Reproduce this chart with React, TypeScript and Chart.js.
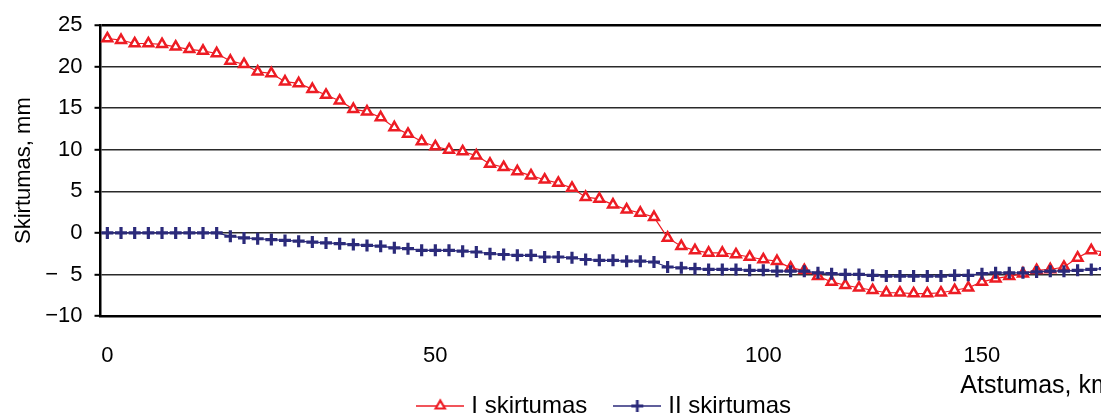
import React, { useEffect, useRef } from "react";
import { Chart, registerables } from "chart.js";

Chart.register(...registerables);

// x-axis: category positions that carry a distance label (km)
const tickIndex = [0, 24, 48, 64];
const tickText = ["0", "50", "100", "150"];

// I skirtumas (mm)
const seriesI = [
  23.4, 23.2, 22.8, 22.8, 22.7, 22.4, 22.1, 21.9, 21.6, 20.7,
  20.3, 19.4, 19.2, 18.2, 18.0, 17.3, 16.6, 15.9, 14.9, 14.6,
  13.9, 12.7, 11.9, 11.0, 10.4, 10.0, 9.8, 9.3, 8.3, 7.9,
  7.4, 6.9, 6.4, 6.0, 5.4, 4.3, 4.1, 3.4, 2.8, 2.4,
  1.9, -0.6, -1.6, -2.1, -2.4, -2.4, -2.6, -2.9, -3.2, -3.4,
  -4.2, -4.5, -5.2, -5.9, -6.3, -6.6, -6.9, -7.2, -7.2, -7.3,
  -7.3, -7.2, -6.9, -6.6, -5.9, -5.5, -5.2, -4.9, -4.5, -4.4,
  -4.1, -3.0, -2.1, -2.3,
];

// II skirtumas (mm)
const seriesII = [
  0.0, 0.0, 0.0, 0.0, 0.0, 0.0, 0.0, 0.0, 0.0, -0.4,
  -0.6, -0.7, -0.8, -0.9, -1.0, -1.1, -1.2, -1.3, -1.4, -1.5,
  -1.6, -1.8, -1.9, -2.1, -2.1, -2.1, -2.2, -2.3, -2.5, -2.6,
  -2.7, -2.7, -2.9, -2.9, -3.0, -3.2, -3.3, -3.3, -3.4, -3.4,
  -3.5, -4.1, -4.2, -4.3, -4.4, -4.4, -4.4, -4.5, -4.5, -4.6,
  -4.6, -4.6, -4.8, -4.9, -5.0, -5.0, -5.1, -5.2, -5.2, -5.2,
  -5.2, -5.2, -5.1, -5.1, -4.9, -4.8, -4.8, -4.8, -4.7, -4.6,
  -4.6, -4.5, -4.4, -4.3,
];

const seriesNames = ["I skirtumas", "II skirtumas"];
const yMin = -10;
const yMax = 25;
const yStep = 5;

const categories = seriesI.map((_, i) => {
  const k = tickIndex.indexOf(i);
  return k >= 0 ? tickText[k] : "";
});

const RED = "#ed1c24";
const NAVY = "#2b2a7a";
const FONT = "'Liberation Sans', Arial, Helvetica, sans-serif";

function makeLegendIcon(color: string, kind: "triangle" | "cross"): HTMLCanvasElement {
  const c = document.createElement("canvas");
  c.width = 48;
  c.height = 22;
  const g = c.getContext("2d")!;
  g.strokeStyle = color;
  g.lineWidth = 1.5;
  g.beginPath();
  g.moveTo(0, 11);
  g.lineTo(48, 11);
  g.stroke();
  if (kind === "triangle") {
    g.fillStyle = "#fff";
    g.lineWidth = 2.2;
    g.beginPath();
    g.moveTo(24, 5.5);
    g.lineTo(28.6, 13.5);
    g.lineTo(19.4, 13.5);
    g.closePath();
    g.fill();
    g.stroke();
  } else {
    g.lineWidth = 2.8;
    g.beginPath();
    g.moveTo(24, 5);
    g.lineTo(24, 17);
    g.moveTo(18, 11);
    g.lineTo(30, 11);
    g.stroke();
  }
  return c;
}

function formatY(v: number): string {
  if (v < 0) {
    const a = Math.abs(v);
    return "\u2212" + (a < 10 ? "\u2007" : "") + a;
  }
  return String(v);
}

export default function App() {
  const ref = useRef<HTMLCanvasElement | null>(null);

  useEffect(() => {
    if (!ref.current) return;
    const icons = [makeLegendIcon(RED, "triangle"), makeLegendIcon(NAVY, "cross")];
    const chart = new Chart(ref.current, {
      type: "line",
      data: {
        labels: categories,
        datasets: [
          {
            label: seriesNames[0],
            data: seriesI,
            borderColor: RED,
            borderWidth: 1.2,
            pointStyle: "triangle",
            pointRadius: 5.6,
            pointBorderWidth: 2.5,
            pointBackgroundColor: "#ffffff",
            pointBorderColor: RED,
            tension: 0,
            order: 1,
          },
          {
            label: seriesNames[1],
            data: seriesII,
            borderColor: NAVY,
            borderWidth: 1.2,
            pointStyle: "cross",
            pointRadius: 6,
            pointBorderWidth: 3.2,
            pointBorderColor: NAVY,
            pointBackgroundColor: NAVY,
            tension: 0,
            order: 0,
          },
        ],
      },
      options: {
        animation: false,
        responsive: true,
        maintainAspectRatio: false,
        devicePixelRatio: 1,
        events: [],
        layout: { padding: { top: 21, left: 0, right: 0, bottom: 0 } },
        scales: {
          x: {
            type: "category",
            offset: true,
            grid: { display: false, drawTicks: false },
            border: { display: true, color: "#000", width: 2.5 },
            ticks: {
              autoSkip: false,
              maxRotation: 0,
              minRotation: 0,
              padding: 27,
              color: "#000",
              font: { family: FONT, size: 22 },
            },
            title: {
              display: true,
              text: "Atstumas, km",
              align: "end",
              color: "#000",
              font: { family: FONT, size: 25 },
              padding: { top: -25.4, bottom: -38 },
            },
          },
          y: {
            type: "linear",
            min: yMin,
            max: yMax,
            ticks: {
              stepSize: yStep,
              padding: 12,
              color: "#000",
              font: { family: FONT, size: 22 },
              callback: (v: any) => formatY(Number(v)),
            },
            grid: {
              color: (ctx: any) => (ctx.tick && ctx.tick.value === yMax ? "#000" : "#2a2a2a"),
              lineWidth: (ctx: any) => (ctx.tick && ctx.tick.value === yMax ? 2.5 : 1.6),
              tickColor: "#000",
              tickWidth: 2,
              tickLength: 6,
              drawTicks: true,
            },
            border: { display: true, color: "#000", width: 2.5 },
            title: {
              display: true,
              text: "Skirtumas, mm",
              color: "#000",
              font: { family: FONT, size: 22 },
              padding: { top: 11, bottom: -4.2 },
            },
          },
        },
        plugins: {
          tooltip: { enabled: false },
          title: { display: false },
          legend: {
            display: true,
            position: "bottom",
            fullSize: false,
            labels: {
              usePointStyle: true,
              pointStyleWidth: 38,
              padding: 31,
              color: "#000",
              font: { family: FONT, size: 24 },
              generateLabels: (ch: any) =>
                ch.data.datasets.map((ds: any, i: number) => ({
                  text: ds.label,
                  datasetIndex: i,
                  pointStyle: icons[i],
                  fillStyle: "rgba(0,0,0,0)",
                  strokeStyle: "rgba(0,0,0,0)",
                  lineWidth: 0,
                  hidden: false,
                  fontColor: "#000",
                })),
            },
          },
        },
      },
    });
    return () => chart.destroy();
  }, []);

  return (
    <div style={{ position: "fixed", left: 0, top: 0, width: 1132, height: 428, background: "#fff" }}>
      <canvas ref={ref} />
    </div>
  );
}
